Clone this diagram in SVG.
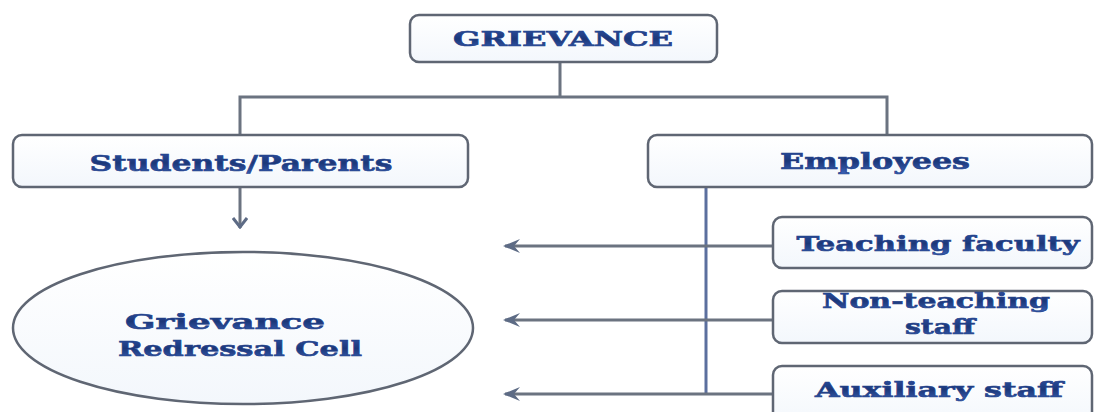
<svg xmlns="http://www.w3.org/2000/svg" width="1095" height="412" viewBox="0 0 1095 412">
<style>
.box{fill:url(#bg);stroke:#5f6673;stroke-width:2.5}
.t{font-family:"DejaVu Serif","Liberation Serif",serif;font-weight:bold;fill:url(#tg);stroke:#22408a;stroke-width:0.6;text-anchor:middle}
.c{fill:none;stroke:#6b7380;stroke-width:3}
.cb{fill:none;stroke:#5b6f9e;stroke-width:3}
</style>
<defs>
<linearGradient id="bg" x1="0" y1="0" x2="0" y2="1">
<stop offset="0" stop-color="#ffffff"/><stop offset="1" stop-color="#f3f7fc"/>
</linearGradient>
<linearGradient id="tg" x1="0" y1="0" x2="0" y2="1">
<stop offset="0" stop-color="#2d52a6"/><stop offset="0.5" stop-color="#1c3778"/><stop offset="1" stop-color="#3a62b8"/>
</linearGradient>
<marker id="ah" viewBox="0 0 18 16" refX="16" refY="8" markerWidth="18" markerHeight="16" markerUnits="userSpaceOnUse" orient="auto">
<path d="M18,8 L1,1 L7,8 L1,15 Z" fill="#5d6b85"/>
</marker>
<marker id="ad" viewBox="0 0 16 14" refX="8" refY="13" markerWidth="16" markerHeight="14" markerUnits="userSpaceOnUse" orient="0">
<path d="M1,3 L8,12 L15,3" fill="none" stroke="#5d6b85" stroke-width="3"/>
</marker>
</defs>
<g id="connectors">
<path class="c" d="M560,62 V97 M240,135 V97 H887 V135"/>
<path class="c" d="M240,187 V228" marker-end="url(#ad)"/>
<path class="cb" d="M706,187 V394"/>
<path class="c" d="M773,246 H505" marker-end="url(#ah)"/>
<path class="c" d="M773,320 H505" marker-end="url(#ah)"/>
<path class="c" d="M773,394 H505" marker-end="url(#ah)"/>
</g>
<g id="grievance">
<rect class="box" x="410" y="15" width="307" height="47" rx="9"/>
<text class="t" x="563" y="46" font-size="20" textLength="220" lengthAdjust="spacingAndGlyphs">GRIEVANCE</text>
</g>
<g id="students">
<rect class="box" x="13" y="135" width="455" height="52" rx="9"/>
<text class="t" x="241" y="171" font-size="22" textLength="303" lengthAdjust="spacingAndGlyphs">Students/Parents</text>
</g>
<g id="employees">
<rect class="box" x="648" y="135" width="444" height="52" rx="9"/>
<text class="t" x="875" y="169" font-size="22" textLength="190" lengthAdjust="spacingAndGlyphs">Employees</text>
</g>
<g id="teaching">
<rect class="box" x="773" y="217" width="319" height="51" rx="9"/>
<text class="t" x="938" y="251" font-size="21" textLength="283" lengthAdjust="spacingAndGlyphs">Teaching faculty</text>
</g>
<g id="nonteaching">
<rect class="box" x="773" y="291" width="319" height="52" rx="9"/>
<text class="t" x="936" y="308" font-size="20" textLength="228" lengthAdjust="spacingAndGlyphs">Non-teaching</text>
<text class="t" x="940" y="334" font-size="20" textLength="70" lengthAdjust="spacingAndGlyphs">staff</text>
</g>
<g id="auxiliary">
<rect class="box" x="773" y="366" width="319" height="60" rx="9"/>
<text class="t" x="939" y="397" font-size="21" textLength="248" lengthAdjust="spacingAndGlyphs">Auxiliary staff</text>
</g>
<g id="cell">
<ellipse class="box" cx="243" cy="328" rx="230" ry="76"/>
<text class="t" x="225" y="329" font-size="21" textLength="200" lengthAdjust="spacingAndGlyphs">Grievance</text>
<text class="t" x="240" y="356" font-size="21" textLength="244" lengthAdjust="spacingAndGlyphs">Redressal Cell</text>
</g>
</svg>
